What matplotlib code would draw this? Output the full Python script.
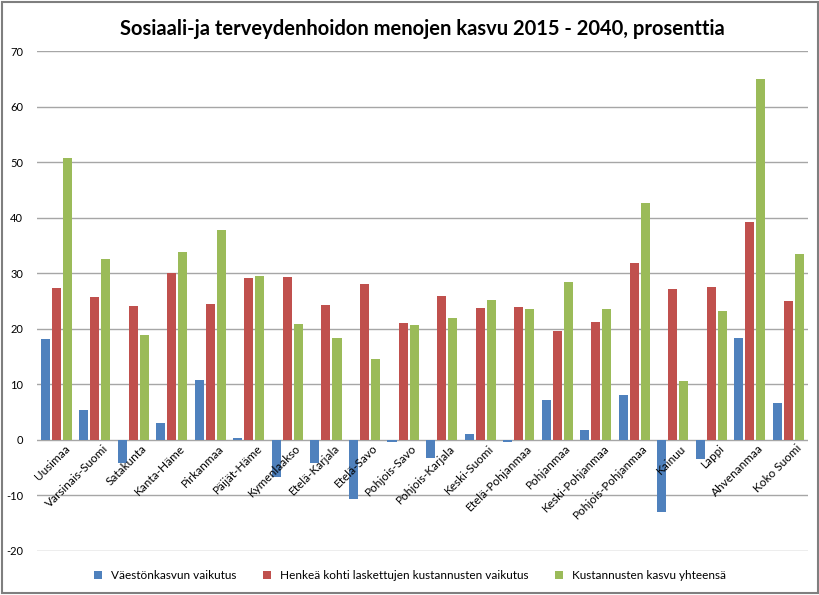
import numpy as np
import matplotlib.pyplot as plt
from matplotlib.patches import Rectangle

# Regions and the three series (percent growth 2015 - 2040)
regions = ['Uusimaa', 'Varsinais-Suomi', 'Satakunta', 'Kanta-Häme', 'Pirkanmaa',
           'Päijät-Häme', 'Kymenlaakso', 'Etelä-Karjala', 'Etelä-Savo', 'Pohjois-Savo',
           'Pohjois-Karjala', 'Keski-Suomi', 'Etelä-Pohjanmaa', 'Pohjanmaa',
           'Keski-Pohjanmaa', 'Pohjois-Pohjanmaa', 'Kainuu', 'Lappi', 'Ahvenanmaa',
           'Koko Suomi']
vaesto = [18.2, 5.4, -4.1, 3.0, 10.7, 0.3, -6.6, -4.2, -10.6, -0.3,
          -3.2, 1.1, -0.4, 7.2, 1.8, 8.1, -12.9, -3.4, 18.3, 6.7]
henkea = [27.4, 25.7, 24.2, 30.0, 24.5, 29.1, 29.4, 24.3, 28.1, 21.0,
          25.9, 23.8, 24.0, 19.7, 21.3, 31.9, 27.1, 27.5, 39.2, 25.0]
yhteensa = [50.7, 32.5, 18.9, 33.9, 37.8, 29.6, 20.8, 18.4, 14.5, 20.7,
            21.9, 25.2, 23.5, 28.4, 23.5, 42.6, 10.6, 23.3, 64.9, 33.5]
series_names = ['Väestönkasvun vaikutus',
                'Henkeä kohti laskettujen kustannusten vaikutus',
                'Kustannusten kasvu yhteensä']
yticks = list(range(-20, 80, 10))

colors = ['#4F81BD', '#C0504D', '#9BBB59']

plt.rcParams['font.family'] = ['Lato', 'DejaVu Sans']
plt.rcParams['axes.unicode_minus'] = False

fig = plt.figure(figsize=(8.2, 5.95), dpi=100)
ax = fig.add_axes([0.045, 0.074, 0.94, 0.84])

x = np.arange(len(regions))
w = 0.235
step = 0.286
for i, vals in enumerate([vaesto, henkea, yhteensa]):
    ax.bar(x + (i - 1) * step, vals, width=w, color=colors[i], label=series_names[i], zorder=3)

ax.set_ylim(-20, 70)
ax.set_xlim(-0.5, len(regions) - 0.5)
ax.set_yticks(yticks)
ax.yaxis.grid(True, color='#a6a6a6', linewidth=1.0, zorder=0)
ax.tick_params(axis='y', length=0, labelsize=8, pad=10)
for s in ax.spines.values():
    s.set_visible(False)

# category labels hang from the zero line
ax.set_xticks([])
for xi, name in zip(x, regions):
    ax.text(xi + 0.2, -0.5, name, rotation=45, ha='right', va='top',
            rotation_mode='anchor', fontsize=8.5, zorder=4)

ax.set_title('Sosiaali-ja terveydenhoidon menojen kasvu 2015 - 2040, prosenttia',
             fontsize=14.5, fontweight='bold', pad=12)

fig.legend(loc='lower center', bbox_to_anchor=(0.5, 0.005), ncol=3, frameon=False,
           fontsize=8.5, handlelength=0.7, handleheight=0.7, columnspacing=2.2)

fig.patches.append(Rectangle((0.002, 0.003), 0.996, 0.994, transform=fig.transFigure,
                             fill=False, edgecolor='#7f7f7f', linewidth=1.5))

fig.savefig('out.png', dpi=100)
